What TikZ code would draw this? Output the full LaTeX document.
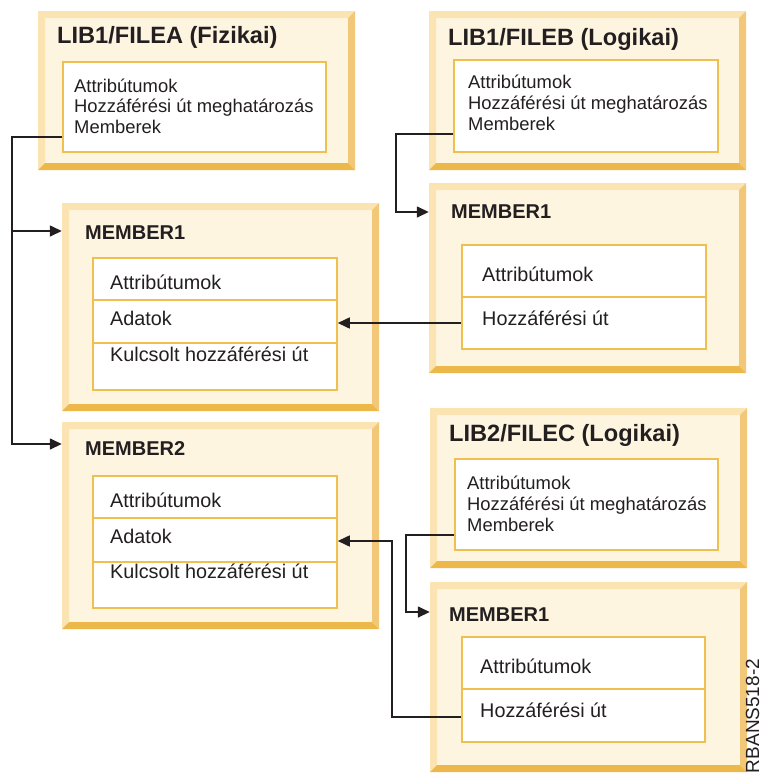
\documentclass[tikz,border=0pt]{standalone}
\usepackage{fontspec}
\setmainfont{Liberation Sans}
\usetikzlibrary{arrows.meta,fit}

\definecolor{bevtop}{HTML}{FBE3B2}
\definecolor{bevright}{HTML}{F2C878}
\definecolor{bevbot}{HTML}{EDB84A}
\definecolor{panelfill}{HTML}{FEF5E0}
\definecolor{iboxline}{HTML}{EFC050}
\definecolor{ink}{HTML}{231F20}

% bevelled panel: name, x1, y1, x2, y2 (y grows downwards)
\newcommand{\bevpanel}[5]{%
  \fill[panelfill] (#2,#3) rectangle (#4,#5);
  \fill[bevtop] (#2,#3) -- (#4,#3) -- ({#4-7},{#3+7}) -- ({#2+7},{#3+7}) -- cycle;
  \fill[bevtop] (#2,#3) -- ({#2+7},{#3+7}) -- ({#2+7},{#5-7}) -- (#2,#5) -- cycle;
  \fill[bevright] (#4,#3) -- (#4,#5) -- ({#4-7},{#5-7}) -- ({#4-7},{#3+7}) -- cycle;
  \fill[bevbot] (#2,#5) -- (#4,#5) -- ({#4-7},{#5-7}) -- ({#2+7},{#5-7}) -- cycle;
  \node[fit={(#2,#3)(#4,#5)}, inner sep=0pt] (#1) {};
}

\tikzset{
  ibox/.style={draw=iboxline, line width=1.5pt, fill=white, inner sep=0pt},
  divider/.style={draw=iboxline, line width=1.5pt},
  title/.style={anchor=base west, inner sep=0pt, text=ink, font=\bfseries\fontsize{23.6}{27}\selectfont},
  mtitle/.style={anchor=base west, inner sep=0pt, text=ink, font=\bfseries\fontsize{20}{24}\selectfont},
  body/.style={anchor=base west, inner sep=0pt, text=ink, font=\fontsize{18.4}{21}\selectfont},
  mbody/.style={anchor=base west, inner sep=0pt, text=ink, font=\fontsize{19.8}{23}\selectfont},
  arr/.style={draw=ink, line width=1.5pt, -{Triangle[length=12pt,width=11pt]}},
}

\begin{document}
\begin{tikzpicture}[x=1pt,y=-1pt]
\useasboundingbox (0,0) rectangle (763,782);

% ---------- LIB1/FILEA ----------
\bevpanel{pA}{38}{11}{355}{170}
\node[ibox, fit={(63,62)(326,152)}] (iA) {};
\node[title] (tA) at (57,43) {LIB1/FILEA (Fizikai)};
\node[body] (a1) at (74,92) {Attribútumok};
\node[body] (a2) at (74,112) {Hozzáférési út meghatározás};
\node[body] (a3) at (74,133) {Memberek};

% ---------- LIB1/FILEB ----------
\bevpanel{pB}{429}{11}{746}{170}
\node[ibox, fit={(454,60)(718,152)}] (iB) {};
\node[title] (tB) at (448,45) {LIB1/FILEB (Logikai)};
\node[body] (b1) at (468,88) {Attribútumok};
\node[body] (b2) at (468,109) {Hozzáférési út meghatározás};
\node[body] (b3) at (468,130) {Memberek};

% ---------- FILEB MEMBER1 ----------
\bevpanel{mB}{429}{183}{746}{373}
\node[ibox, fit={(462,245)(706,349)}] (imB) {};
\draw[divider] (imB.west |- 0,297) -- (imB.east |- 0,297);
\node[mtitle] (tmB) at (451,218) {MEMBER1};
\node[mbody] (mb1) at (482,281) {Attribútumok};
\node[mbody] (mb2) at (482,325) {Hozzáférési út};

% ---------- FILEA MEMBER1 ----------
\bevpanel{m1}{62}{203}{379}{411}
\node[ibox, fit={(93,258)(337,390)}] (iM1) {};
\draw[divider] (iM1.west |- 0,300) -- (iM1.east |- 0,300);
\draw[divider] (iM1.west |- 0,343) -- (iM1.east |- 0,343);
\node[mtitle] (tm1) at (85,239) {MEMBER1};
\node[mbody] (m11) at (110,289) {Attribútumok};
\node[mbody] (m12) at (110,325) {Adatok};
\node[mbody] (m13) at (110,361) {Kulcsolt hozzáférési út};

% ---------- FILEA MEMBER2 ----------
\bevpanel{m2}{62}{422}{379}{629}
\node[ibox, fit={(93,476)(337,608)}] (iM2) {};
\draw[divider] (iM2.west |- 0,518) -- (iM2.east |- 0,518);
\draw[divider] (iM2.west |- 0,562) -- (iM2.east |- 0,562);
\node[mtitle] (tm2) at (85,455) {MEMBER2};
\node[mbody] (m21) at (110,507) {Attribútumok};
\node[mbody] (m22) at (110,543) {Adatok};
\node[mbody] (m23) at (110,578) {Kulcsolt hozzáférési út};

% ---------- LIB2/FILEC ----------
\bevpanel{pC}{430}{408}{747}{568}
\node[ibox, fit={(455,459)(718,550)}] (iC) {};
\node[title] (tC) at (449,441) {LIB2/FILEC (Logikai)};
\node[body] (c1) at (467,489) {Attribútumok};
\node[body] (c2) at (467,510) {Hozzáférési út meghatározás};
\node[body] (c3) at (467,531) {Memberek};

% ---------- FILEC MEMBER1 ----------
\bevpanel{mC}{430}{582}{747}{772}
\node[ibox, fit={(462,637)(705,742)}] (imC) {};
\draw[divider] (imC.west |- 0,689) -- (imC.east |- 0,689);
\node[mtitle] (tmC) at (449,621) {MEMBER1};
\node[mbody] (mc1) at (480,673) {Attribútumok};
\node[mbody] (mc2) at (480,717) {Hozzáférési út};

% ---------- connectors ----------
\coordinate (busA) at (12,137);
\draw[arr] (iA.west |- busA) -- (busA) |- (m2.west |- 0,444);
\draw[arr] (busA |- 0,231) -- (m1.west |- 0,231);

\coordinate (busB) at (396,134);
\draw[arr] (iB.west |- busB) -- (busB) |- (mB.west |- 0,212);

\draw[arr] (imB.west |- 0,323) -- (iM1.east |- 0,323);

\coordinate (busC) at (406,535);
\draw[arr] (iC.west |- busC) -- (busC) |- (mC.west |- 0,612);

\coordinate (busD) at (392,717);
\draw[arr] (imC.west |- busD) -- (busD) |- (iM2.east |- 0,541);

% figure code
\node[rotate=90, inner sep=0pt, text=ink, font=\fontsize{19}{23}\selectfont] (code) at (752.5,716) {RBANS518-2};
\end{tikzpicture}
\end{document}
